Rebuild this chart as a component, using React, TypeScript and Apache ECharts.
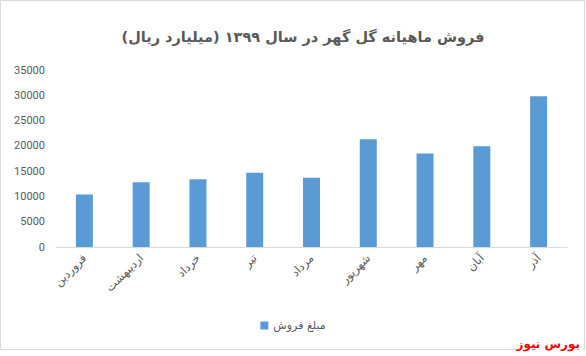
import React, { useEffect, useRef } from "react";
import * as echarts from "echarts";

const months = ["فروردین", "اردیبهشت", "خرداد", "تیر", "مرداد", "شهریور", "مهر", "آبان", "آذر"];
const salesValues = [10400, 12800, 13400, 14700, 13700, 21300, 18500, 19900, 29800];
const seriesName = "مبلغ فروش";
const titleText = "فروش ماهیانه گل گهر در سال ۱۳۹۹ (میلیارد ریال)";
const sourceText = "بورس نیوز";

export default function App() {
  const ref = useRef<HTMLDivElement>(null);
  useEffect(() => {
    if (!ref.current) return;
    const chart = echarts.init(ref.current, undefined, { renderer: "svg" });
    chart.setOption({
      animation: false,
      backgroundColor: "#ffffff",
      title: {
        text: titleText,
        left: 298,
        textAlign: "center",
        top: 24,
        textStyle: {
          fontFamily: "DejaVu Sans",
          fontSize: 14.5,
          fontWeight: "bold",
          color: "#595959",
        },
      },
      legend: {
        data: [seriesName],
        bottom: 20,
        left: "center",
        icon: "rect",
        itemWidth: 8,
        itemHeight: 8,
        itemGap: 6,
        textStyle: { fontFamily: "DejaVu Sans", fontSize: 11, color: "#595959" },
      },
      grid: { left: 56, right: 19, top: 70, bottom: 109, containLabel: false },
      xAxis: {
        type: "category",
        data: months,
        axisTick: { show: false },
        axisLine: { lineStyle: { color: "#d9d9d9" } },
        axisLabel: {
          rotate: 45,
          interval: 0,
          margin: 9,
          fontFamily: "DejaVu Sans",
          fontSize: 11.5,
          color: "#595959",
        },
      },
      yAxis: {
        type: "value",
        min: 0,
        max: 35000,
        interval: 5000,
        splitLine: { show: false },
        axisLine: { show: false },
        axisTick: { show: false },
        axisLabel: {
          margin: 11,
          fontFamily: "Roboto",
          fontSize: 11,
          color: "#595959",
          formatter: (v: number) => String(v),
        },
      },
      series: [
        {
          name: seriesName,
          type: "bar",
          data: salesValues,
          barWidth: 17,
          itemStyle: { color: "#5B9BD5" },
        },
      ],
      graphic: [
        {
          type: "rect",
          shape: { x: 0.5, y: 0.5, width: 584, height: 349 },
          style: { fill: "none", stroke: "#d9d9d9", lineWidth: 1 },
          silent: true,
        },
        {
          type: "rect",
          shape: { x: 517, y: 339, width: 66, height: 15 },
          style: { fill: "#ffffff" },
          silent: true,
        },
        {
          type: "text",
          right: 6,
          top: 338,
          style: {
            text: sourceText,
            fill: "#ff0000",
            fontFamily: "DejaVu Sans",
            fontSize: 12,
            fontWeight: "bold",
          },
        },
      ],
    });
    return () => chart.dispose();
  }, []);
  return (
    <div
      ref={ref}
      style={{ position: "fixed", left: 0, top: 0, width: 586, height: 356 }}
    />
  );
}
